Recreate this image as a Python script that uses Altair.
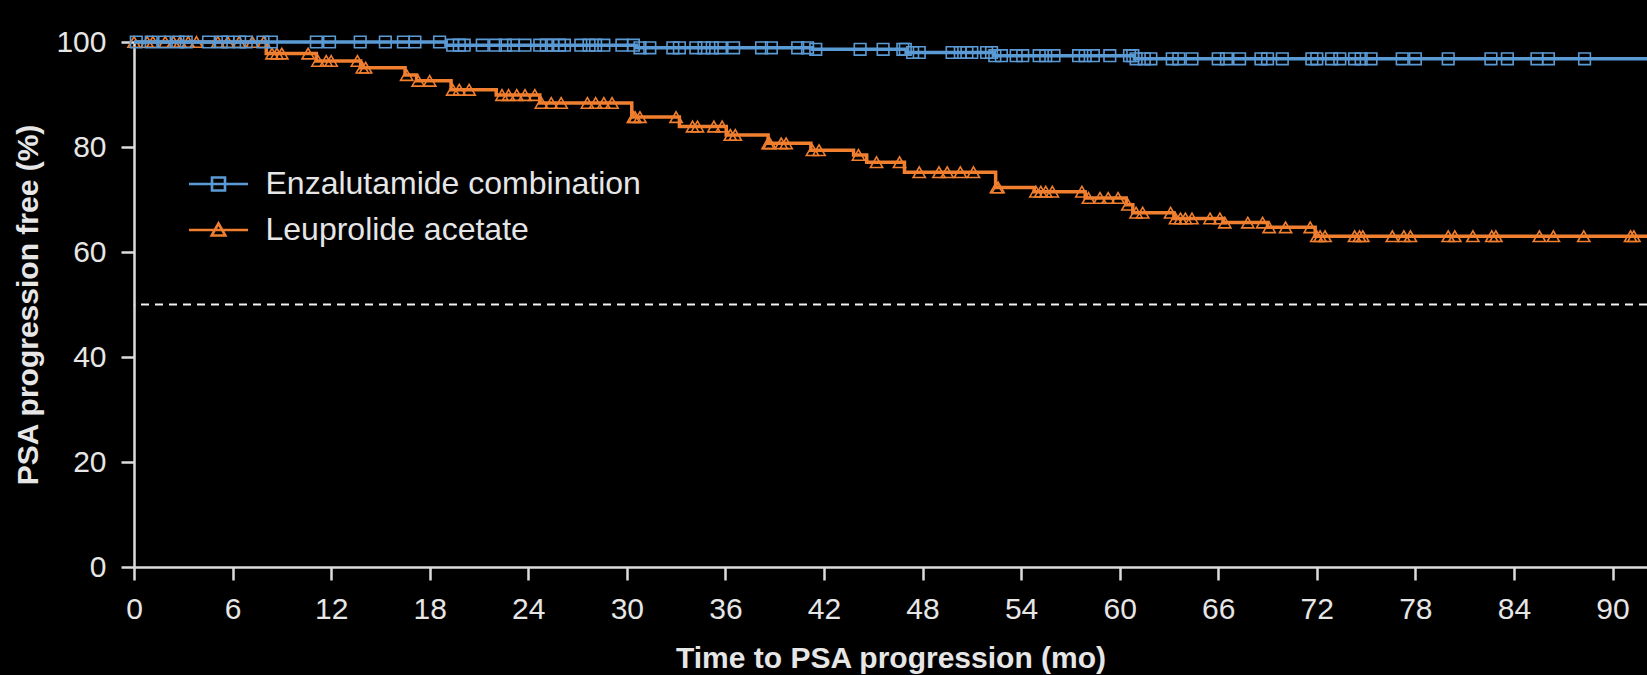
import altair as alt
import pandas as pd

# Treatment arms and their colours
groups = ["Enzalutamide combination", "Leuprolide acetate"]
colors = ["#5B9BD5", "#F07F2F"]

# Kaplan-Meier steps: time of each drop (months) and survival after it (%)
enza_step_time = [0, 19.0, 30.6, 41.3, 47.0, 52.35, 60.9]
enza_step_surv = [100, 99.4, 98.9, 98.6, 98.0, 97.4, 96.8]

leup_step_time = [0, 8.05, 11.1, 13.8, 16.5, 17.2, 19.3, 22.05, 24.7, 30.3, 33.2,
                  36.05, 38.6, 41.2, 43.8, 44.6, 46.9, 52.45, 54.8, 57.9, 60.4,
                  60.8, 63.3, 66.3, 69.0, 71.9]
leup_step_surv = [100, 97.8, 96.4, 95.1, 93.7, 92.6, 90.9, 89.9, 88.4, 85.7, 83.9,
                  82.3, 80.7, 79.4, 78.5, 77.1, 75.2, 72.3, 71.5, 70.3, 69.0,
                  67.5, 66.4, 65.6, 64.7, 63.0]

# Censoring times (months)
enza_censor = [0.14, 1.05, 1.86, 2.67, 3.18, 4.54, 5.31, 5.72, 6.43, 6.83, 7.85, 8.36,
               11.1, 11.9, 13.77, 15.3, 16.4, 17.1, 18.6, 19.4, 19.8, 20.1, 21.2,
               22.0, 22.6, 23.1, 23.8, 24.7, 25.1, 25.5, 25.9, 26.2, 27.2, 27.7,
               28.1, 28.6, 29.7, 30.4, 30.8, 31.4, 32.8, 33.2, 34.2, 34.7, 35.2,
               35.7, 36.5, 38.2, 38.8, 40.4, 41.0, 41.5, 44.2, 45.6, 46.8, 46.95,
               47.4, 47.8, 49.8, 50.3, 50.7, 51.0, 51.9, 52.2, 52.4, 52.8, 53.7,
               54.1, 55.1, 55.5, 56.0, 57.5, 57.9, 58.4, 59.4, 60.6, 60.8, 61.0,
               61.5, 61.9, 63.2, 63.6, 64.4, 66.0, 66.5, 67.3, 68.6, 69.0, 69.9,
               71.7, 72.0, 72.9, 73.4, 74.3, 74.7, 75.3, 77.2, 78.0, 80.0, 82.6,
               83.6, 85.4, 86.1, 88.3]
leup_censor = [0.0, 0.8, 1.15, 1.9, 2.4, 2.8, 3.3, 3.8, 5.1, 5.7, 6.4, 7.2, 7.9,
               8.4, 8.7, 9.0, 10.6, 11.2, 11.7, 12.0, 13.6, 13.9, 14.1, 16.6, 17.3,
               18.0, 19.4, 19.8, 20.4, 22.4, 22.8, 23.3, 23.8, 24.4, 24.8, 25.4,
               26.0, 27.6, 28.1, 28.6, 29.1, 30.4, 30.5, 30.8, 33.0, 34.0, 34.3,
               35.3, 35.8, 36.3, 36.6, 38.6, 38.7, 39.4, 39.7, 41.3, 41.7, 44.1,
               45.2, 46.6, 47.8, 49.0, 49.5, 50.3, 51.1, 52.5, 52.6, 54.9, 55.2,
               55.5, 55.9, 57.7, 58.1, 58.8, 59.3, 59.9, 60.5, 61.0, 61.4, 63.1,
               63.4, 63.7, 64.0, 64.4, 65.5, 66.1, 66.4, 67.8, 68.7, 69.1, 70.1,
               71.6, 72.0, 72.2, 72.5, 74.3, 74.6, 74.8, 76.6, 77.3, 77.7, 80.0,
               80.4, 81.5, 82.65, 82.9, 85.55, 86.4, 88.25, 91.1, 91.3]

follow_up_end = 92.1
x_ticks = list(range(0, 91, 6))
y_ticks = [0, 20, 40, 60, 80, 100]
median_line = [50]


def surv_at(t, times, survs):
    value = survs[0]
    for ti, si in zip(times, survs):
        if ti <= t:
            value = si
    return value


def curve_frame(name, times, survs):
    rows = [{"group": name, "time": t, "surv": s} for t, s in zip(times, survs)]
    rows.append({"group": name, "time": follow_up_end, "surv": survs[-1]})
    return pd.DataFrame(rows)


def censor_frame(name, censor, times, survs):
    return pd.DataFrame({"group": name, "time": censor,
                         "surv": [surv_at(t, times, survs) for t in censor]})


enza_curve = curve_frame(groups[0], enza_step_time, enza_step_surv)
leup_curve = curve_frame(groups[1], leup_step_time, leup_step_surv)
enza_marks = censor_frame(groups[0], enza_censor, enza_step_time, enza_step_surv)
leup_marks = censor_frame(groups[1], leup_censor, leup_step_time, leup_step_surv)
# one row per arm, used only to carry the legend
legend_rows = pd.concat([enza_marks.head(1), leup_marks.head(1)], ignore_index=True)

axis_color = "#dcdcdc"
font = "Liberation Sans"

x_enc = alt.X("time:Q", scale=alt.Scale(domain=[0, follow_up_end], nice=False, zero=False),
              axis=alt.Axis(values=x_ticks, title="Time to PSA progression (mo)",
                            labelFlush=False, labelOverlap=False, grid=False,
                            tickSize=13, labelPadding=14, titleY=91,
                            titleBaseline="middle"))
y_enc = alt.Y("surv:Q", scale=alt.Scale(domain=[0, 100], nice=False),
              axis=alt.Axis(values=y_ticks, title="PSA progression free (%)",
                            grid=False, tickSize=13, labelPadding=15,
                            titleX=-106, titleY=262.5, titleAngle=270,
                            titleAlign="center", titleBaseline="middle"))
color_scale = alt.Scale(domain=groups, range=colors)

# legend glyphs: a short line with the censor symbol on it
square_glyph = "M-4.54,0H4.54M-1,-1H1V1H-1Z"
triangle_glyph = "M-4.54,0H4.54M0,-1L1.05,0.85H-1.05Z"

legend_props = dict(title=None, orient="none", legendX=68.5, legendY=126,
                    labelFontSize=32, labelFont=font, labelColor="#e6e6e6",
                    labelOffset=31, rowPadding=14, symbolSize=169,
                    symbolStrokeWidth=2.6, symbolOpacity=1,
                    symbolFillColor="transparent", labelLimit=800, padding=0)


def color_enc():
    return alt.Color("group:N", scale=color_scale, legend=alt.Legend(**legend_props))


median_rule = alt.Chart(pd.DataFrame({"surv": median_line})).mark_rule(
    color="#f2f2f2", strokeDash=[8, 6], strokeWidth=2
).encode(y=alt.Y("surv:Q"))

legend_layer = alt.Chart(legend_rows).mark_point(
    filled=False, size=169, strokeWidth=2.6, opacity=0
).encode(
    x=x_enc, y=y_enc, color=color_enc(),
    shape=alt.Shape("group:N", scale=alt.Scale(domain=groups,
                                               range=[square_glyph, triangle_glyph]),
                    legend=alt.Legend(**legend_props)),
)


def km_line(df):
    return alt.Chart(df).mark_line(interpolate="step-after", strokeWidth=3.5).encode(
        x=x_enc, y=y_enc, color=color_enc())


def km_marks(df, shape, size):
    return alt.Chart(df).mark_point(shape=shape, filled=False, size=size,
                                    strokeWidth=1.6, opacity=1).encode(
        x=x_enc, y=y_enc, color=color_enc())


chart = alt.layer(
    median_rule,
    legend_layer,
    km_line(leup_curve),
    km_marks(leup_marks, "triangle-up", 150),
    km_line(enza_curve),
    km_marks(enza_marks, "square", 135),
).properties(
    width=1513, height=525,
    autosize=alt.AutoSizeParams(type="none"),
    padding={"left": 134, "top": 42, "right": 0, "bottom": 108},
    background="black",
).configure_view(
    stroke=None
).configure_axis(
    domainColor=axis_color, domainWidth=2.5, tickColor=axis_color, tickWidth=2.5,
    labelColor="#e6e6e6", labelFont=font, labelFontSize=30,
    titleColor="#e6e6e6", titleFont=font, titleFontSize=30, titleFontWeight="bold",
)

chart.save("out.html", embed_options={"renderer": "svg", "actions": False})
